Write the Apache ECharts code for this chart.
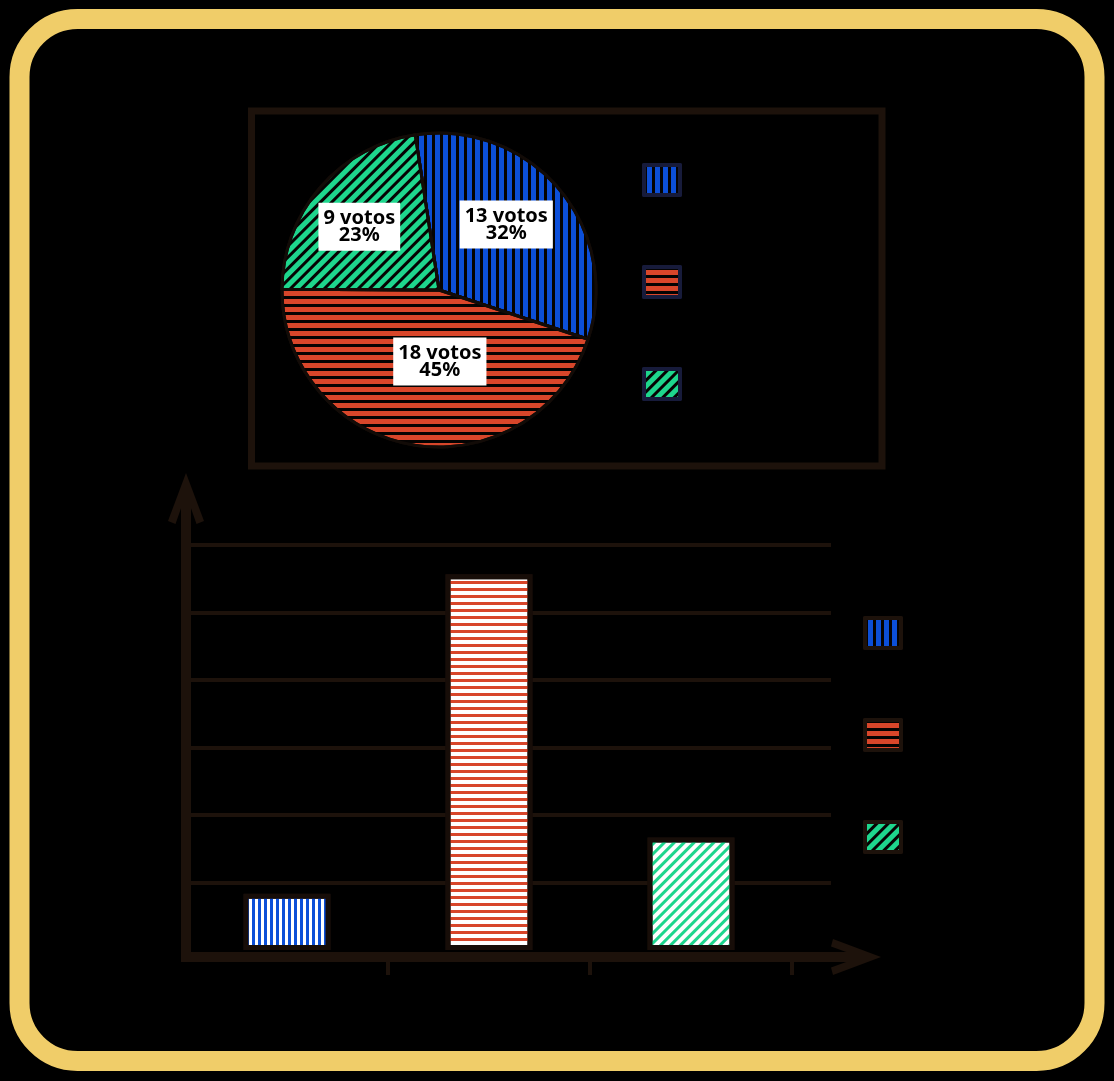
<!DOCTYPE html>
<html>
<head>
<meta charset="utf-8">
<script src="https://cdn.jsdelivr.net/npm/echarts@6/dist/echarts.min.js"></script>
<style>
html,body{margin:0;padding:0;background:#000;}
#chart{width:1114px;height:1081px;}
</style>
</head>
<body>
<div id="chart"></div>
<script>
// ---------- data ----------
const pieNames = ['Opción 1', 'Opción 2', 'Opción 3'];
const pieVotes = [13, 18, 9];
const piePercentLabels = ['32%', '45%', '23%'];
const barNames = ['Barra 1', 'Barra 2', 'Barra 3'];
const barValues = [2.5, 16.7, 5];
const xTickValues = [1, 2, 3];

// ---------- styles ----------
const BLUE = '#0c4fd8';
const RED = '#d8462a';
const GREEN = '#1ed68d';
const DARK = '#1d120b';
const NAVY = '#171b3b';
const colors = [BLUE, RED, GREEN];
const labelNudges = [[5, -13], [14, -9], [-18, -10]];

function stripeDecal(kind, color, on, off) {
  if (kind === 'v') return { symbol: 'rect', symbolSize: 1, dashArrayX: [on, off], dashArrayY: [1, 0], color: color };
  if (kind === 'h') return { symbol: 'rect', symbolSize: 1, dashArrayX: [1, 0], dashArrayY: [on, off], color: color };
  return { symbol: 'rect', symbolSize: 1, dashArrayX: [1, 0], dashArrayY: [on, off], rotation: -Math.PI / 4, color: color };
}
const kinds = ['v', 'h', 'd'];
const pieDecals = kinds.map(k => stripeDecal(k, '#050302', 3, 5));
const barDecals = [stripeDecal('v', BLUE, 3, 3), stripeDecal('h', RED, 3, 4), stripeDecal('d', GREEN, 3, 4)];

const arrowY = 'path://M18 0 L36 48 L28.5 51 L18 21 L7.5 51 L0 48 Z M13 14 L23 14 L23 72 L13 72 Z';
const arrowX = 'path://M18 0 L36 48 L28.5 50 L18 21 L7.5 50 L0 48 Z M13 14 L23 14 L23 50 L13 50 Z';

const chart = echarts.init(document.getElementById('chart'), null, { renderer: 'canvas' });

const option = {
  backgroundColor: '#000',
  animation: false,
  graphic: [
    { type: 'rect', z: 0, shape: { x: 19.5, y: 19, width: 1075, height: 1042, r: 58 },
      style: { fill: 'none', stroke: '#f0cd69', lineWidth: 20 } },
    { type: 'rect', z: 0, shape: { x: 251.5, y: 111, width: 630.5, height: 355 },
      style: { fill: 'none', stroke: DARK, lineWidth: 7 } }
  ],
  legend: [
    {
      orient: 'vertical', left: 642, top: 163, padding: 0, itemWidth: 36, itemHeight: 30, itemGap: 68,
      icon: 'rect', selectedMode: false, formatter: () => '',
      data: pieNames.map((n, i) => ({
        name: n,
        itemStyle: { color: colors[i], decal: pieDecals[i], borderColor: NAVY, borderWidth: 4, borderJoin: 'round' }
      }))
    },
    {
      orient: 'vertical', left: 863, top: 616, padding: 0, itemWidth: 36, itemHeight: 30, itemGap: 68,
      icon: 'rect', selectedMode: false, formatter: () => '',
      data: barNames.map((n, i) => ({
        name: n,
        itemStyle: { color: colors[i], decal: pieDecals[i], borderColor: DARK, borderWidth: 4, borderJoin: 'round' }
      }))
    }
  ],
  grid: { left: 186, right: 283, top: 545, bottom: 131 },
  xAxis: {
    type: 'value', min: 0, max: 3.193, interval: 1, offset: 7, z: 3,
    splitLine: { show: false },
    axisLabel: { show: false },
    axisTick: { show: true, customValues: xTickValues, length: 18, lineStyle: { color: DARK, width: 4 } },
    axisLine: { show: true, onZero: false, symbol: ['none', arrowX], symbolSize: [36, 50], symbolOffset: [0, 25],
      lineStyle: { color: DARK, width: 10, cap: 'square' } }
  },
  yAxis: {
    type: 'value', min: 0, max: 18, interval: 3,
    axisLabel: { show: false },
    axisTick: { show: false },
    splitLine: { show: true, showMinLine: false, lineStyle: { color: DARK, width: 4 } },
    axisLine: { show: true, onZero: false, symbol: ['none', arrowY], symbolSize: [36, 72], symbolOffset: [0, 36],
      lineStyle: { color: DARK, width: 10, cap: 'square' } }
  },
  series: [
    {
      type: 'pie', name: 'Votos', center: [439, 290], radius: 157,
      startAngle: 98.7, clockwise: true, silent: true,
      itemStyle: { borderColor: '#120b07', borderWidth: 3 },
      label: {
        show: true, position: 'inside',
        formatter: p => p.value + ' votos\n' + piePercentLabels[p.dataIndex],
        color: '#000', backgroundColor: '#fff', fontFamily: "'Noto Sans', sans-serif",
        fontWeight: 'bold', fontSize: 20, lineHeight: 17, padding: [7, 5, 7, 5]
      },
      labelLine: { show: false },
      emphasis: { disabled: true },
      data: pieNames.map((n, i) => ({
        name: n, value: pieVotes[i],
        itemStyle: { color: colors[i], decal: pieDecals[i] },
        label: { offset: labelNudges[i] }
      }))
    }
  ].concat(barNames.map((n, i) => ({
    type: 'bar', name: n, barWidth: 87, barGap: '-100%', silent: true,
    itemStyle: { color: '#ffffff', decal: barDecals[i], borderColor: '#170d08', borderWidth: 5 },
    emphasis: { disabled: true },
    data: [[i + 0.5, barValues[i]]]
  })))
};
chart.setOption(option);
</script>
</body>
</html>
